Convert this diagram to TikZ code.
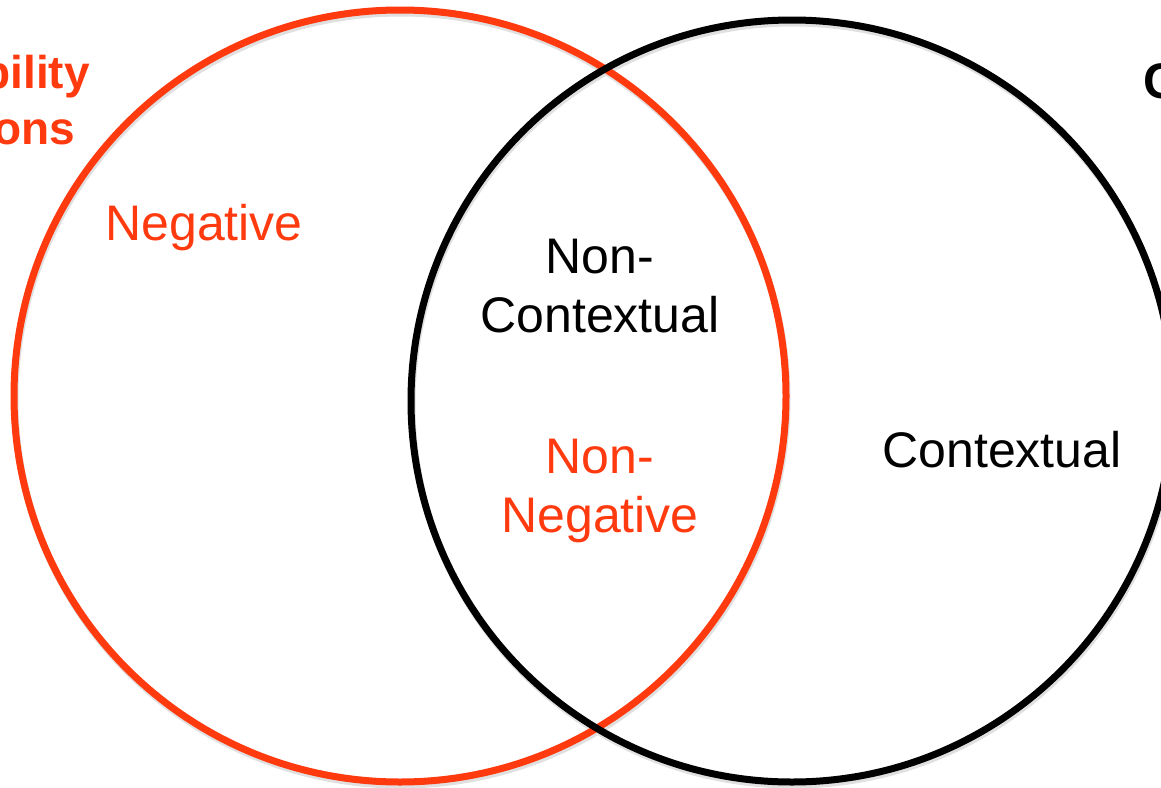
\documentclass[tikz,border=0pt]{standalone}
\usepackage{fontspec}
\setmainfont{Liberation Sans}
\definecolor{vred}{RGB}{255,58,15}
\begin{document}
\begin{tikzpicture}[x=1pt,y=-1pt,
  ring/.style={line width=7pt},
  shade/.style={line width=7pt,draw=black!12},
  lab/.style={font=\fontsize{50}{59}\selectfont,align=center,inner sep=0pt,anchor=base},
  ttl/.style={font=\fontsize{46}{56}\selectfont\bfseries,color=vred,inner sep=0pt},
]
\useasboundingbox (0,0) rectangle (1161,787);
\clip (0,0) rectangle (1161,787);
\fill[white] (0,0) rectangle (1161,787);
% soft shadows
\draw[shade] (401,399) circle (386);
\draw[shade] (793,404) circle (381);
% circles
\draw[ring,draw=vred] (400,396) circle (386);
\draw[ring,draw=black] (792,401) circle (381);
% clipped titles
\node[ttl,anchor=base east] (t1) at (90,88) {bility};
\node[ttl,anchor=base east] (t2) at (75,144) {ons};
\node[font=\fontsize{50}{59}\selectfont\bfseries,inner sep=0pt,anchor=base west] (t3) at (1143,98) {C};
% region labels (base = baseline of last line)
\node[lab,text=vred] (neg) at (204,240) {Negative};
\node[lab,text=black] (nc) at (600,332) {Non-\\Contextual};
\node[lab,text=vred] (nn) at (600,532) {Non-\\Negative};
\node[lab,text=black] (ctx) at (1002,467) {Contextual};
\end{tikzpicture}
\end{document}
